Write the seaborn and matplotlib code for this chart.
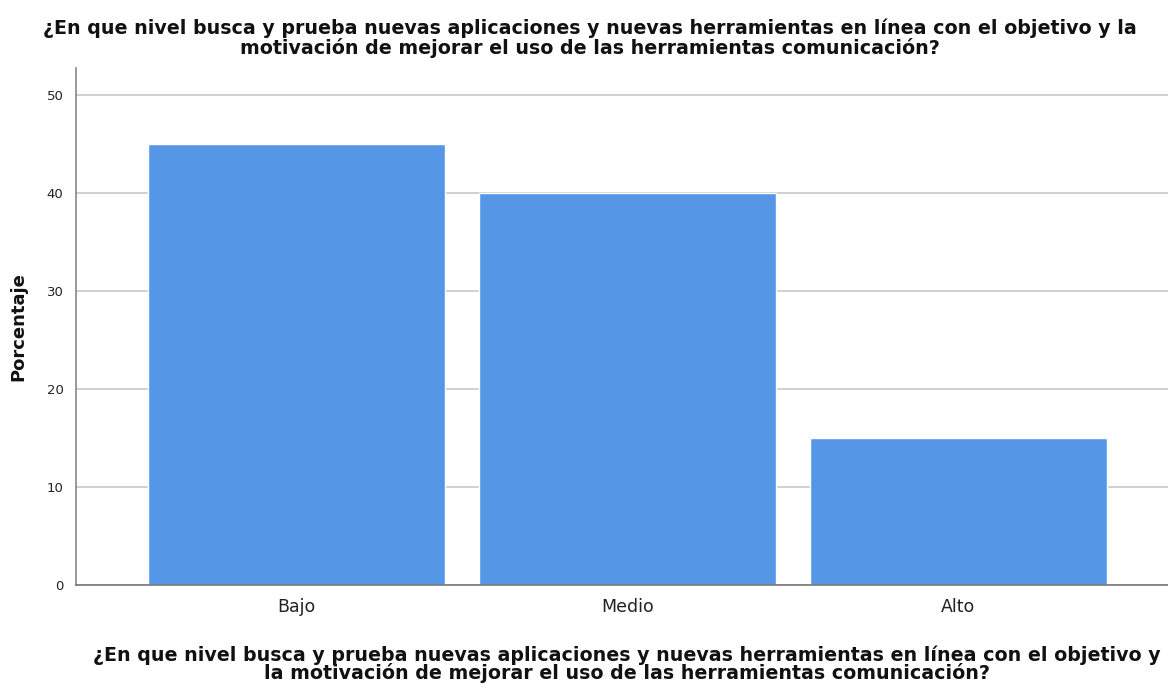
import matplotlib
matplotlib.use("Agg")
import matplotlib.pyplot as plt
import seaborn as sns
import pandas as pd

# --- data ---
categories = ["Bajo", "Medio", "Alto"]
percentages = [45, 40, 15]
y_ticks = [0, 10, 20, 30, 40, 50]

question = ("¿En que nivel busca y prueba nuevas aplicaciones y nuevas herramientas en línea con el objetivo y la\n"
            "motivación de mejorar el uso de las herramientas comunicación?")
xlabel_text = ("¿En que nivel busca y prueba nuevas aplicaciones y nuevas herramientas en línea con el objetivo y\n"
               "la motivación de mejorar el uso de las herramientas comunicación?")

BAR_COLOR = "#5596E6"

sns.set_style("white")
plt.rcParams["font.family"] = ["DejaVu Sans"]

df = pd.DataFrame({"nivel": categories, "pct": percentages})

fig = plt.figure(figsize=(11.68, 6.84), dpi=100)
ax = fig.add_axes([0.0651, 0.1447, 0.9349, 0.7559])

ax.yaxis.grid(True, color="#c8c8c8", linewidth=1.2)
ax.set_axisbelow(True)

sns.barplot(data=df, x="nivel", y="pct", color=BAR_COLOR, saturation=1,
            width=0.897, ax=ax)

ax.set_xlim(-0.666, 2.634)
ax.set_ylim(0, 52.76)
ax.set_yticks(y_ticks)
ax.tick_params(axis="y", labelsize=9.5, length=5, color="#888888", pad=4,
               labelcolor="#222222")
ax.tick_params(axis="x", labelsize=12.5, length=0, pad=9, labelcolor="#222222")

for s in ["top", "right"]:
    ax.spines[s].set_visible(False)
ax.spines["left"].set_color("#888888")
ax.spines["left"].set_linewidth(1.2)
ax.spines["bottom"].set_color("#777777")
ax.spines["bottom"].set_linewidth(1.2)

ax.set_ylabel("Porcentaje", fontsize=13, fontweight="bold", labelpad=14, color="#111111")
ax.set_xlabel("")

fig.text(0.505, 0.944, question, ha="center", va="center", fontsize=13.7,
         fontweight="bold", linespacing=0.96, color="#111111")
fig.text(0.537, 0.029, xlabel_text, ha="center", va="center", fontsize=13.7,
         fontweight="bold", linespacing=0.9, color="#111111")

fig.savefig("out.png", dpi=100)
